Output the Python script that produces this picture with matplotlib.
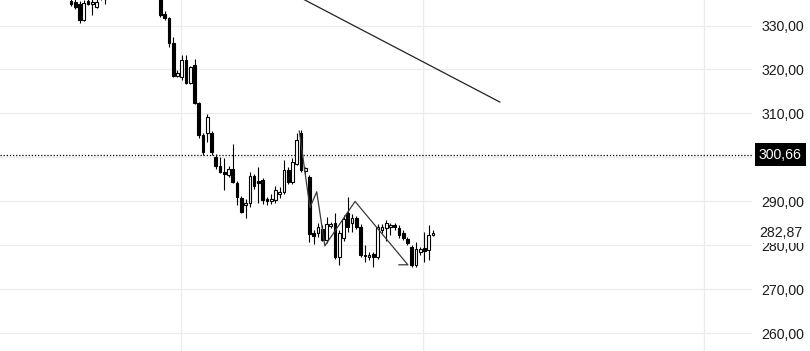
import matplotlib
matplotlib.use("Agg")
import matplotlib.pyplot as plt
import numpy as np

# OHLC candles, oldest first
opens = [
    335.5, 335.3, 334.8, 331.3, 335.6, 335.0, 334.3, 336.2, 337.0, 336.5,
    337.8, 339.0, 338.6, 340.4, 339.8, 340.9, 340.1, 338.4, 339.0, 337.4,
    338.0, 337.2, 332.6, 331.7, 326.0, 318.5, 318.3, 322.2, 316.9, 321.0,
    312.4, 305.2, 305.5, 305.5, 300.2, 298.0, 296.7, 296.0, 297.4, 294.2,
    290.8, 289.2, 289.6, 295.7, 294.6, 294.8, 290.6, 290.1, 290.3, 291.8,
    292.2, 297.2, 294.5, 298.6, 305.5, 296.9, 295.6, 282.8, 282.8, 283.7,
    281.3, 284.4, 285.1, 277.4, 281.6, 287.4, 285.1, 286.2, 284.2, 277.9,
    277.4, 278.0, 277.4, 283.6, 283.9, 284.2, 284.6, 284.0, 282.8, 281.5,
    279.7, 275.6, 278.6, 279.4, 279.0, 282.4,
]
highs = [
    336.5, 336.3, 335.6, 335.8, 336.4, 336.2, 336.4, 337.2, 337.8, 338.2,
    339.5, 340.5, 341.0, 341.8, 341.2, 342.0, 341.0, 339.5, 339.8, 338.6,
    338.9, 338.0, 333.2, 332.0, 327.4, 319.8, 323.3, 323.4, 320.9, 322.5,
    312.6, 305.5, 309.8, 306.0, 300.8, 300.0, 299.9, 298.0, 303.1, 294.6,
    291.2, 290.6, 296.6, 296.2, 297.8, 295.3, 291.0, 291.7, 293.5, 293.2,
    299.4, 297.8, 299.8, 305.6, 306.2, 297.8, 296.0, 283.5, 285.0, 284.6,
    286.5, 285.3, 287.4, 283.6, 287.0, 291.0, 287.2, 286.8, 284.8, 280.0,
    278.4, 278.6, 284.9, 284.8, 285.8, 285.2, 285.0, 284.6, 283.4, 282.0,
    280.2, 280.8, 279.7, 283.0, 284.6, 283.6,
]
lows = [
    334.5, 333.8, 330.6, 331.0, 334.6, 332.3, 334.0, 335.9, 335.0, 336.1,
    337.0, 338.2, 338.0, 339.2, 338.5, 339.6, 338.0, 337.2, 337.0, 336.3,
    336.4, 332.0, 331.3, 325.2, 318.3, 318.2, 317.6, 316.6, 316.6, 312.2,
    304.5, 300.6, 303.5, 300.6, 297.3, 296.4, 292.6, 295.5, 294.2, 289.2,
    287.4, 286.2, 288.8, 292.8, 289.6, 289.4, 289.3, 289.5, 289.6, 290.7,
    291.6, 294.0, 294.0, 298.3, 296.8, 296.2, 280.8, 280.4, 282.0, 281.0,
    280.5, 283.9, 277.0, 275.6, 281.0, 283.0, 283.0, 283.8, 277.4, 276.2,
    276.8, 275.1, 277.0, 282.8, 281.0, 282.4, 283.6, 281.8, 281.2, 280.2,
    275.2, 275.0, 277.8, 276.2, 276.7, 282.2,
]
closes = [
    334.9, 334.1, 331.2, 335.2, 335.0, 335.3, 335.3, 336.9, 336.3, 337.8,
    339.0, 338.6, 340.4, 339.8, 340.9, 340.1, 338.4, 339.0, 337.4, 338.0,
    337.2, 332.4, 331.6, 326.0, 318.6, 319.2, 322.2, 316.9, 320.6, 312.4,
    305.2, 301.2, 309.2, 301.2, 298.0, 296.7, 296.3, 297.4, 294.4, 291.0,
    287.6, 289.6, 295.7, 293.5, 294.2, 290.3, 290.1, 290.6, 292.6, 292.2,
    297.2, 294.5, 298.9, 304.0, 297.2, 297.6, 282.6, 282.2, 284.2, 281.3,
    284.8, 284.9, 277.4, 282.8, 286.0, 284.2, 286.2, 284.2, 277.8, 277.5,
    277.9, 277.3, 284.2, 284.2, 285.0, 284.6, 284.2, 282.4, 281.7, 280.6,
    275.6, 279.2, 279.2, 278.8, 282.3, 282.87,
]

# drawing lines (bar index, price)
trend_x = [48.0, 100.7]
trend_y = [339.3, 312.6]
zigzag_x = [53.6, 56.1, 57.7, 59.6, 66.7, 79.1, 77.0]
zigzag_y = [306.0, 288.6, 292.2, 279.9, 290.0, 275.6, 275.6]

ref_price = 300.66
last_price = 282.87
grid_y = [260, 270, 280, 290, 300, 310, 320, 330]
label_y = [260, 270, 280, 290, 310, 320, 330]  # 300 sits under the black tag
time_grid = [25.8, 82.6, 148.6]

TXT = "#1c1c1c"
FS = 10.2


def fmt(v):
    return f"{v:.2f}".replace(".", ",")


plt.rcParams["font.family"] = ["Liberation Sans", "DejaVu Sans"]

fig = plt.figure(figsize=(8.1, 3.51), dpi=100)
ax = fig.add_axes([0, 0, 752 / 810, 1])
ax.set_xlim(-16.67, 159.9)
ax.set_ylim(256.0, 335.8)

grid_col = "#ececec"
for y in grid_y:
    ax.axhline(y, color=grid_col, lw=0.9, zorder=0)
for x in time_grid:
    ax.axvline(x, color=grid_col, lw=0.9, zorder=0)

ax.axhline(ref_price, color="black", lw=0.9, ls=(0, (1, 1.5)), zorder=1)

o = np.array(opens)
h = np.array(highs)
l = np.array(lows)
c = np.array(closes)
idx = np.arange(len(o))
up = c >= o

ax.vlines(idx, l, h, color="black", lw=0.8, zorder=2)
bottom = np.minimum(o, c)
height = np.maximum(np.abs(c - o), 0.3)
ax.bar(idx[up], height[up], bottom=bottom[up], width=0.64,
       facecolor="white", edgecolor="black", linewidth=0.8, zorder=3)
ax.bar(idx[~up], height[~up], bottom=bottom[~up], width=0.64,
       facecolor="black", edgecolor="black", linewidth=0.8, zorder=3)

ax.plot(zigzag_x, zigzag_y, color="#3a3a3a", lw=0.9, zorder=4)
ax.plot(trend_x, trend_y, color="#222222", lw=0.9, zorder=4)

for s in ax.spines.values():
    s.set_visible(False)
ax.set_xticks([])
ax.yaxis.tick_right()
ax.set_yticks(label_y)
ax.set_yticklabels([fmt(v) for v in label_y])
ax.tick_params(axis="y", length=0, pad=7, labelsize=FS, labelcolor=TXT)

tr = ax.get_yaxis_transform()
ax.text(1.0 + 7 / 752, last_price, fmt(last_price), transform=tr,
        ha="left", va="center", fontsize=FS, color=TXT,
        bbox=dict(facecolor="white", edgecolor="none", pad=2.2), zorder=6,
        clip_on=False)
ax.text(1.0 + 7 / 752, ref_price, fmt(ref_price), transform=tr,
        ha="left", va="center", fontsize=FS, color="white",
        bbox=dict(boxstyle="square,pad=0.3", facecolor="black", edgecolor="none"),
        zorder=6, clip_on=False)

fig.savefig("out.png", dpi=100)
